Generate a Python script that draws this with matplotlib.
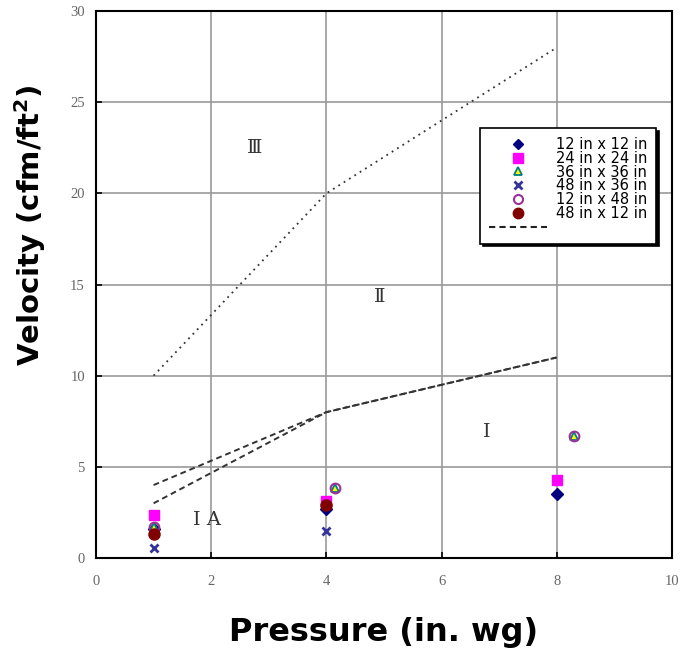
import matplotlib.pyplot as plt
from matplotlib.lines import Line2D

# 数据
x_main = [1, 4, 8]
x_shift = [1, 4.15, 8.3]

v_12x12 = [1.6, 2.7, 3.5]
v_24x24 = [2.35, 3.1, 4.3]
v_36x36 = [1.7, 3.85, 6.7]
v_48x36 = [0.55, 1.5]
v_12x48 = [1.7, 3.85, 6.7]
v_48x12 = [1.3, 2.9]

# 区域分界线
bound_x = [1, 4, 8]
bound3_y = [10, 20, 28]
bound1a_y = [4, 8, 11]
bound1b_y = [3, 8, 11]

region_labels = ['\u2162', '\u2161', '\u2160', '\u2160 A']
region_x = [2.75, 4.93, 6.79, 1.93]
region_y = [22.5, 14.3, 6.9, 2.1]

series_labels = ['12 in x 12 in', '24 in x 24 in', '36 in x 36 in',
                 '48 in x 36 in', '12 in x 48 in', '48 in x 12 in']

fig = plt.figure(figsize=(6.89, 6.55), dpi=100, facecolor='white')
ax = fig.add_axes([0.1393, 0.1481, 0.836, 0.835])

ax.set_xlim(0, 10)
ax.set_ylim(0, 30)
ax.set_xticks([0, 2, 4, 6, 8, 10])
ax.set_yticks([0, 5, 10, 15, 20, 25, 30])
ax.grid(True, color='#999999', linewidth=1.2, zorder=0)
ax.set_axisbelow(True)
for s in ax.spines.values():
    s.set_color('black')
    s.set_linewidth(1.5)
ax.tick_params(direction='in', length=4, width=1.2, color='black',
               labelsize=10.5, labelcolor='#666666')
ax.tick_params(axis='x', pad=12)
ax.tick_params(axis='y', pad=8)
for lab in ax.get_xticklabels() + ax.get_yticklabels():
    lab.set_family('Liberation Serif')

# 分界线
ax.plot(bound_x, bound3_y, color='#333333', lw=1.3, ls=(0, (1, 2.5)), zorder=3)
ax.plot(bound_x, bound1a_y, color='#333333', lw=1.4, ls=(0, (3, 2)), zorder=3)
ax.plot(bound_x, bound1b_y, color='#333333', lw=1.4, ls=(0, (3, 2)), zorder=3)

# 数据点
ax.plot(x_main, v_12x12, ls='none', marker='D', ms=6, color='#000080', zorder=4)
ax.plot(x_main, v_24x24, ls='none', marker='s', ms=7.5, color='#ff00ff', zorder=4)
ax.plot(x_shift, v_36x36, ls='none', marker='^', ms=6, mfc='#ffff00',
        mec='#008080', mew=1.3, zorder=4)
ax.plot(x_main[:2], v_48x36, ls='none', marker='x', ms=6, mew=2,
        color='#333399', zorder=4)
ax.plot(x_shift, v_12x48, ls='none', marker='o', ms=7, mfc='none',
        mec='#993399', mew=1.5, zorder=4)
ax.plot(x_main[:2], v_48x12, ls='none', marker='o', ms=8, color='#800000', zorder=4)

for t, xx, yy in zip(region_labels, region_x, region_y):
    ax.text(xx, yy, t, ha='center', va='center', fontsize=14, color='#333333',
            family=['DejaVu Serif'], zorder=5)

handles = [
    Line2D([], [], ls='none', marker='D', ms=5, color='#000080'),
    Line2D([], [], ls='none', marker='s', ms=6.5, color='#ff00ff'),
    Line2D([], [], ls='none', marker='^', ms=6, mfc='#ffff00', mec='#008080', mew=1.3),
    Line2D([], [], ls='none', marker='x', ms=5.5, mew=2, color='#333399'),
    Line2D([], [], ls='none', marker='o', ms=6.5, mfc='white', mec='#993399', mew=1.5),
    Line2D([], [], ls='none', marker='o', ms=7.5, color='#800000'),
    Line2D([], [], color='#222222', lw=1.5, ls=(0, (3, 2))),
]
labels = series_labels + [' ']
leg = ax.legend(handles, labels, loc='upper left', bbox_to_anchor=(0.667, 0.786),
                borderaxespad=0, prop={'family': 'DejaVu Sans', 'size': 10.5},
                labelspacing=-0.08, handlelength=4.0, handletextpad=0.6,
                borderpad=0.6, fancybox=False, framealpha=1, edgecolor='black',
                shadow={'color': 'black', 'alpha': 1})
leg.get_frame().set_linewidth(1.2)
leg.set_zorder(6)

fig.text(0.5573, 1 - 632 / 655, 'Pressure (in. wg)', ha='center', va='center',
         fontsize=23, fontweight='bold', family='DejaVu Sans')
fig.text(30 / 689, 1 - 225 / 655, 'Velocity (cfm/ft$\\mathbf{^2}$)', ha='center', va='center',
         rotation=90, fontsize=21, fontweight='bold', family='DejaVu Sans')

fig.savefig('out.png', dpi=100, facecolor='white')
